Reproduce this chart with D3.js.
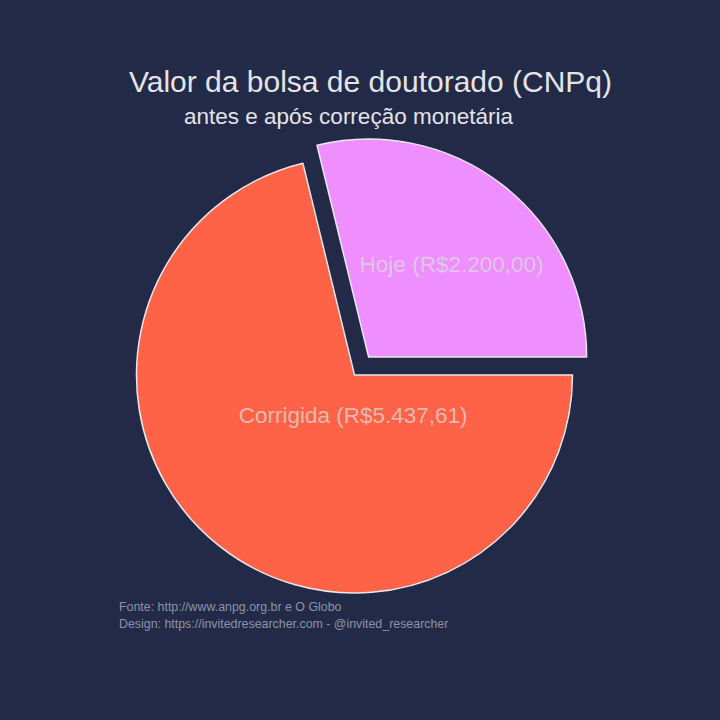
<!DOCTYPE html>
<html>
<head>
<meta charset="utf-8">
<script src="https://cdn.jsdelivr.net/npm/d3@7"></script>
<style>
  html, body { margin: 0; padding: 0; background: #222a48; }
  svg { display: block; }
</style>
</head>
<body>
<script>
// ---- data ----
const categories = ["Corrigida", "Hoje"];
const values = [5437.61, 2200.00];
const valueLabels = ["R$5.437,61", "R$2.200,00"];
const colors = ["#ff6347", "#ee8eff"];
const pulls = [0, 0.105];
const titleText = "Valor da bolsa de doutorado (CNPq)";
const subtitleText = "antes e após correção monetária";
const footerLines = ["Fonte: http://www.anpg.org.br e O Globo",
                     "Design: https://invitedresearcher.com - @invited_researcher"];

const W = 720, H = 720;
const FONT = "'Liberation Sans', Arial, sans-serif";
const svg = d3.select("body").append("svg").attr("width", W).attr("height", H);
svg.append("rect").attr("width", W).attr("height", H).attr("fill", "#222a48");

const cx = 354.5, cy = 375, R = 218;

const pie = d3.pie().sort(null).value(d => d)
  .startAngle(Math.PI / 2).endAngle(Math.PI / 2 + 2 * Math.PI);
const arcs = pie(values);
const arc = d3.arc().innerRadius(0).outerRadius(R);

const g = svg.append("g").attr("transform", `translate(${cx},${cy})`);

// label placement (polar from slice apex): [angle from up in degrees, radius px]
const labelPolar = [[182, 40], [41.7, 124.6]];

arcs.forEach((a, i) => {
  const mid = (a.startAngle + a.endAngle) / 2;
  const off = pulls[i] * R;
  const dx = Math.sin(mid) * off, dy = -Math.cos(mid) * off;
  const sg = g.append("g").attr("transform", `translate(${dx},${dy})`);
  sg.append("path")
    .attr("d", arc(a))
    .attr("fill", colors[i])
    .attr("stroke", "#e8e8ee")
    .attr("stroke-width", 1.5)
    .attr("stroke-linejoin", "round");
  const ang = labelPolar[i][0] * Math.PI / 180, rr = labelPolar[i][1];
  sg.append("text")
    .attr("x", Math.sin(ang) * rr)
    .attr("y", -Math.cos(ang) * rr)
    .attr("dy", "0.35em")
    .attr("text-anchor", "middle")
    .attr("font-family", FONT)
    .attr("font-size", 22.5)
    .attr("fill", "#dcdcdc")
    .attr("fill-opacity", 0.72)
    .text(`${categories[i]} (${valueLabels[i]})`);
});

// titles
svg.append("text")
  .attr("x", 370.5).attr("y", 92)
  .attr("text-anchor", "middle")
  .attr("font-family", FONT)
  .attr("font-size", 30)
  .attr("fill", "#e4e4e8")
  .text(titleText);
svg.append("text")
  .attr("x", 348.5).attr("y", 124)
  .attr("text-anchor", "middle")
  .attr("font-family", FONT)
  .attr("font-size", 22.5)
  .attr("fill", "#e4e4e8")
  .text(subtitleText);

// footer
footerLines.forEach((t, i) => {
  svg.append("text")
    .attr("x", 119).attr("y", 611 + i * 16.5)
    .attr("font-family", FONT)
    .attr("font-size", 12.4)
    .attr("fill", "#8d92a8")
    .text(t);
});
</script>
</body>
</html>
